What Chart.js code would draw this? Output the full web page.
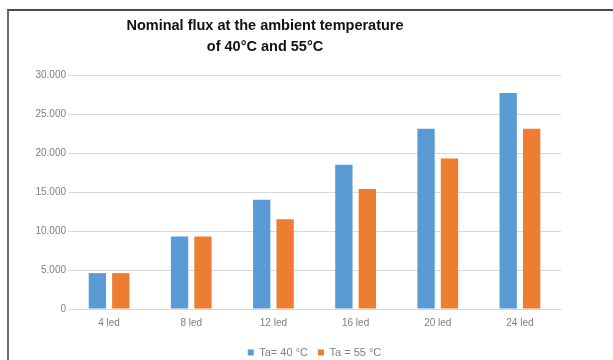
<!DOCTYPE html>
<html>
<head>
<meta charset="utf-8">
<script src="https://cdn.jsdelivr.net/npm/chart.js@4/dist/chart.umd.min.js"></script>
<style>
  html, body { margin: 0; padding: 0; background: #fff; }
  body { width: 613px; height: 360px; position: relative; overflow: hidden; }
  #frame {
    position: absolute; left: 7px; top: 9px; width: 606px; height: 351px;
    border-top: 2px solid #4a4a4a; border-left: 2px solid #6a6a6a;
    box-sizing: border-box;
  }
  /* el lienzo sobresale por abajo, el marco lo recorta */
  #wrap { position: absolute; left: 0; top: 0; width: 604px; height: 357px; }
</style>
</head>
<body>
<div id="frame"><div id="wrap"><canvas id="fluxChart"></canvas></div></div>
<script>
// Datos del gráfico
const categorias = ['4 led', '8 led', '12 led', '16 led', '20 led', '24 led'];
const flujo40 = [4600, 9300, 14000, 18500, 23100, 27700];
const flujo55 = [4600, 9300, 11500, 15400, 19300, 23100];
const etiquetas = ['Ta= 40 °C', 'Ta = 55 °C'];
const tituloLineas = ['Nominal flux at the ambient temperature', 'of 40°C and 55°C'];
const yTicks = [0, 5000, 10000, 15000, 20000, 25000, 30000];

// Título dibujado a mano (está un poco a la izquierda del centro)
const tituloPlugin = {
    id: 'tituloManual',
    afterDraw(chart) {
        const ctx = chart.ctx;
        ctx.save();
        ctx.font = 'bold 14.5px "Liberation Sans", sans-serif';
        ctx.fillStyle = '#111';
        ctx.textAlign = 'center';
        ctx.textBaseline = 'middle';
        tituloLineas.forEach((linea, i) => {
            ctx.fillText(linea, 256, 15 + i * 21);
        });
        ctx.restore();
    }
};

const ctx = document.getElementById('fluxChart').getContext('2d');
new Chart(ctx, {
    type: 'bar',
    data: {
        labels: categorias,
        datasets: [
            {
                label: etiquetas[0],
                data: flujo40,
                backgroundColor: '#5b9bd5',
                categoryPercentage: 0.57,
                barPercentage: 0.74
            },
            {
                label: etiquetas[1],
                data: flujo55,
                backgroundColor: '#ed7d31',
                categoryPercentage: 0.57,
                barPercentage: 0.74
            }
        ]
    },
    options: {
        responsive: true,
        maintainAspectRatio: false,
        animation: false,
        layout: {
            padding: { top: 64, right: 52, left: 0, bottom: 0 }
        },
        plugins: {
            title: { display: false },
            tooltip: { enabled: false },
            legend: {
                display: true,
                position: 'bottom',
                fullSize: false,
                labels: {
                    boxWidth: 6,
                    boxHeight: 6,
                    padding: 10,
                    color: '#7f7f7f',
                    font: { family: 'Liberation Sans', size: 11 }
                }
            }
        },
        scales: {
            x: {
                grid: { display: false, drawTicks: false },
                border: { display: true, color: '#d9d9d9' },
                ticks: {
                    color: '#7f7f7f',
                    padding: 8,
                    font: { family: 'Liberation Sans', size: 10 }
                }
            },
            y: {
                min: 0,
                max: 30000,
                afterFit: function(scale) { scale.width = 59; },
                afterBuildTicks: function(scale) {
                    scale.ticks = yTicks.map(v => ({ value: v }));
                },
                grid: { color: '#d9d9d9', drawTicks: false },
                border: { display: false },
                ticks: {
                    color: '#7f7f7f',
                    padding: 2,
                    font: { family: 'Liberation Sans', size: 10 },
                    callback: function(value) {
                        return value.toString().replace(/\B(?=(\d{3})+(?!\d))/g, '.');
                    }
                }
            }
        }
    },
    plugins: [tituloPlugin]
});
</script>
</body>
</html>
